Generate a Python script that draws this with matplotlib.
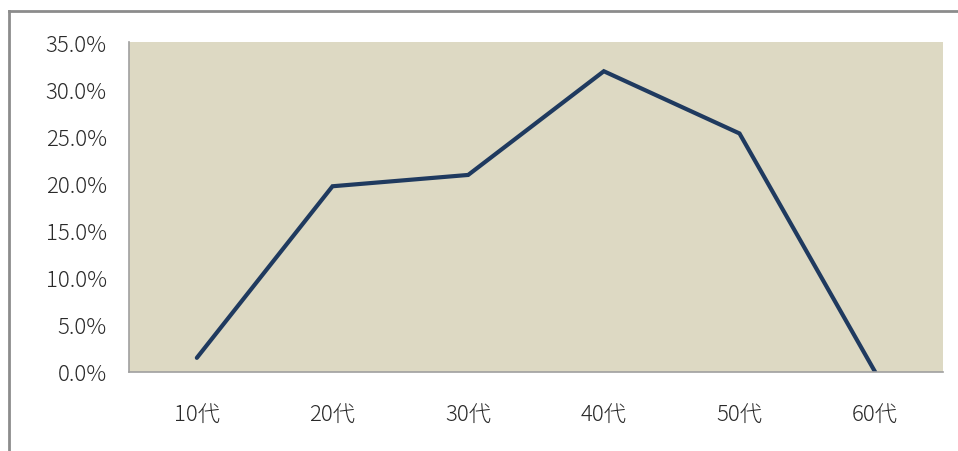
import matplotlib
matplotlib.use('agg')
import matplotlib.pyplot as plt
from matplotlib.lines import Line2D
from matplotlib.ticker import FuncFormatter

plt.rcParams['font.family'] = ['Noto Sans CJK JP', 'DejaVu Sans']

age_groups = ['10代', '20代', '30代', '40代', '50代', '60代']
share = [1.5, 19.7, 20.9, 31.9, 25.3, 0.0]
y_ticks = [0, 5, 10, 15, 20, 25, 30, 35]

fig = plt.figure(figsize=(9.58, 4.52), dpi=100)
fig.patch.set_facecolor('white')

ax = fig.add_axes([129 / 958, 79 / 452, 814 / 958, 330 / 452])
ax.set_facecolor('#ddd9c3')

x = list(range(len(age_groups)))
ax.plot(x, share, color='#1f3a5f', linewidth=3.0, solid_capstyle='round',
        solid_joinstyle='miter')

ax.set_xlim(-0.5, len(age_groups) - 0.5)
ax.set_ylim(0, 35)
ax.set_xticks(x)
ax.set_xticklabels(age_groups)
ax.set_yticks(y_ticks)
ax.yaxis.set_major_formatter(FuncFormatter(lambda v, p: '%.1f%%' % v))

ax.tick_params(axis='y', length=0, pad=16, labelsize=16, labelcolor='#2a2a2a')
ax.tick_params(axis='x', length=0, pad=22, labelsize=16, labelcolor='#2a2a2a')
for lab in ax.get_xticklabels() + ax.get_yticklabels():
    lab.set_fontweight('light')

for side in ['top', 'right']:
    ax.spines[side].set_visible(False)
for side in ['left', 'bottom']:
    ax.spines[side].set_color('#a0a0a0')
    ax.spines[side].set_linewidth(1.2)

# outer frame, only top and left edges show
top_y = 1 - 12 / 452
left_x = 9 / 958
fig.add_artist(Line2D([left_x, 1], [top_y, top_y], transform=fig.transFigure,
                      color='#8c8c8c', linewidth=2))
fig.add_artist(Line2D([left_x, left_x], [0, top_y], transform=fig.transFigure,
                      color='#8c8c8c', linewidth=2))

plt.savefig('out.png', dpi=100)
